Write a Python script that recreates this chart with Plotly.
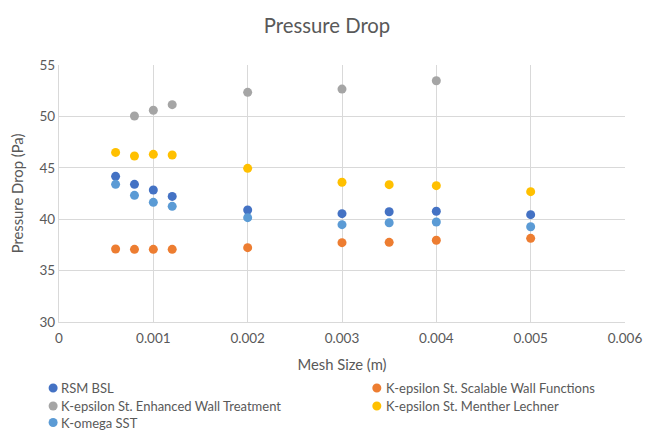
import plotly.graph_objects as go

# Mesh sizes (m) at which each turbulence model was evaluated
mesh = [0.0006, 0.0008, 0.001, 0.0012, 0.002, 0.003, 0.0035, 0.004, 0.005]
mesh_ewt = [0.0008, 0.001, 0.0012, 0.002, 0.003, 0.004]

# Pressure drop (Pa) per model
rsm_bsl = [44.17, 43.39, 42.84, 42.22, 40.89, 40.54, 40.73, 40.77, 40.44]
ke_scalable = [37.10, 37.07, 37.07, 37.07, 37.23, 37.72, 37.75, 37.95, 38.14]
ke_enhanced = [50.04, 50.60, 51.14, 52.34, 52.66, 53.47]
ke_menther = [46.50, 46.15, 46.31, 46.24, 44.95, 43.59, 43.36, 43.26, 42.68]
komega_sst = [43.39, 42.32, 41.64, 41.25, 40.15, 39.47, 39.66, 39.73, 39.27]

series = [
    ("RSM BSL", mesh, rsm_bsl, "#4472C4"),
    ("K-epsilon St. Scalable Wall Functions", mesh, ke_scalable, "#ED7D31"),
    ("K-epsilon St. Enhanced Wall Treatment", mesh_ewt, ke_enhanced, "#A5A5A5"),
    ("K-epsilon St. Menther Lechner", mesh, ke_menther, "#FFC000"),
    ("K-omega SST", mesh, komega_sst, "#5B9BD5"),
]

FONT = "Lato"
TXT = "#595959"
GRID = "#D9D9D9"

# Plot-area geometry in pixels (used to place the legend in paper units)
W, H = 654, 431
L, R, T, B = 59, 18, 65, 109
PW, PH = W - L - R, H - T - B


def px_x(px):
    return (px - L) / PW


def px_y(py):
    return (H - B - py) / PH


fig = go.Figure()
for name, xs, ys, color in series:
    fig.add_trace(go.Scatter(
        x=xs, y=ys, mode="markers", name=name, showlegend=False,
        marker=dict(size=9, color=color, line=dict(width=0)),
    ))

# Two-column legend below the plot: coloured dot + series name
dot_x = [53, 383]          # dot centre per column (px)
txt_x = [60, 391]          # text left edge per column (px)
row_y = [388, 406, 422.5]  # row centre (px, from top)
r = 4.6
for i, (name, _, _, color) in enumerate(series):
    col, row = i % 2, i // 2
    cx, cy = dot_x[col], row_y[row]
    fig.add_shape(
        type="circle", xref="paper", yref="paper",
        x0=px_x(cx - r), x1=px_x(cx + r), y0=px_y(cy + r), y1=px_y(cy - r),
        fillcolor=color, line=dict(width=0), layer="above",
    )
    fig.add_annotation(
        xref="paper", yref="paper",
        x=px_x(txt_x[col]), y=px_y(cy),
        xanchor="left", yanchor="middle", showarrow=False,
        text=name, borderpad=0,
        font=dict(family=FONT, size=13, color=TXT),
    )

fig.update_layout(
    width=W, height=H,
    margin=dict(l=L, r=R, t=T, b=B),
    paper_bgcolor="white", plot_bgcolor="white",
    font=dict(family=FONT, color=TXT, size=12),
    title=dict(text="Pressure Drop", x=0.5, xanchor="center", y=0.939, yanchor="middle",
               font=dict(size=20.3, color=TXT, family=FONT)),
    showlegend=False,
)
fig.update_xaxes(
    range=[0, 0.006], dtick=0.001, tick0=0, tickformat="~g",
    showgrid=True, gridcolor=GRID, gridwidth=1.3,
    showline=True, linecolor=GRID, linewidth=1.3, zeroline=False,
    ticks="", ticklabelstandoff=4, tickfont=dict(size=13.5, color=TXT),
    title=dict(text="Mesh Size (m)", font=dict(size=14.8, color=TXT), standoff=14),
)
fig.update_yaxes(
    range=[30, 55], dtick=5,
    showgrid=True, gridcolor=GRID, gridwidth=1.3,
    showline=True, linecolor=GRID, linewidth=1.3, zeroline=False,
    ticks="", tickfont=dict(size=13.5, color=TXT),
    title=dict(text="Pressure Drop (Pa)", font=dict(size=14.8, color=TXT), standoff=12),
)

fig.write_html("out.html")
